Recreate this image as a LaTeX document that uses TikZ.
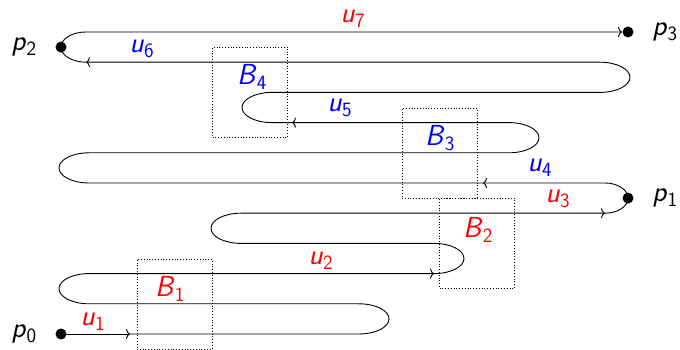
\documentclass[tikz,border=0pt]{standalone}
\usetikzlibrary{arrows.meta}
\newcommand{\sv}[2]{\textsf{\textit{#1}}\textsubscript{\textsf{#2}}}
\begin{document}
\begin{tikzpicture}[x=1pt,y=1pt,line width=0.9pt,
  every node/.style={font=\fontsize{29}{34}\selectfont},
  tip/.style={-{To[length=4pt,width=10pt]}},
  dot/.style={circle,fill=black,inner sep=0pt,minimum size=11pt},
  blk/.style={draw,dotted,line width=0.8pt,minimum width=75pt,minimum height=90pt,inner sep=0pt},
  rl/.style={x radius=30,y radius=15.1},
  lbl/.style={inner sep=0pt}]
\useasboundingbox (0,0) rectangle (680,350);
% end points
\node[dot] (p0) at (61,16) {};
\node[dot] (p1) at (628,151.9) {};
\node[dot] (p2) at (61,302.9) {};
\node[dot] (p3) at (628,318) {};
\node[lbl] (tp0) at (24,16) {\sv{p}{0}};
\node[lbl] (tp1) at (665,152) {\sv{p}{1}};
\node[lbl] (tp2) at (24,303) {\sv{p}{2}};
\node[lbl] (tp3) at (665,318) {\sv{p}{3}};
% boxes
\node[blk] (B1) at (174.5,46) {};
\node[blk] (B2) at (477,106.5) {};
\node[blk] (B3) at (439.5,197) {};
\node[blk] (B4) at (250,258) {};
\node[lbl,red] (tB1) at (170,61) {\textsf{\textit{B}}\textsubscript{\textsf{1}}};
\node[lbl,red] (tB2) at (478,120) {\textsf{\textit{B}}\textsubscript{\textsf{2}}};
\node[lbl,blue] (tB3) at (440,212) {\textsf{\textit{B}}\textsubscript{\textsf{3}}};
\node[lbl,blue] (tB4) at (252,273) {\textsf{\textit{B}}\textsubscript{\textsf{4}}};
% arrow points
\coordinate (a1) at (130,16);
\coordinate (a2) at (434,76.4);
\coordinate (a3) at (605,136.8);
\coordinate (a4) at (483,167);
\coordinate (a5) at (292,227.4);
\coordinate (a6) at (86,287.8);
% the path
\draw[tip] (p0.center) -- (a1);
\draw[tip] (a1) -- (359,16) arc[start angle=-90,end angle=90,rl]
  -- (89,46.2) arc[start angle=270,end angle=90,rl] -- (a2);
\draw[tip] (a2) arc[start angle=-90,end angle=90,rl]
  -- (241,106.6) arc[start angle=270,end angle=90,rl] -- (a3);
\draw (a3) arc[start angle=-90,end angle=0,x radius=23,y radius=15.1];
\draw[tip] (p1.center) arc[start angle=0,end angle=90,x radius=23,y radius=15.1] -- (a4);
\draw[tip] (a4) -- (89,167) arc[start angle=270,end angle=90,rl]
  -- (509,197.2) arc[start angle=-90,end angle=90,rl] -- (a5);
\draw[tip] (a5) -- (272,227.4) arc[start angle=270,end angle=90,rl]
  -- (600,257.6) arc[start angle=-90,end angle=90,rl] -- (a6);
\draw (a6) arc[start angle=270,end angle=180,x radius=25,y radius=15.1];
\draw[tip] (p2.center) arc[start angle=180,end angle=90,x radius=25,y radius=15.1] -- (p3);
% labels
\node[lbl,red] (u1) at (93,28) {\sv{u}{1}};
\node[lbl,red] (u2) at (321,89) {\sv{u}{2}};
\node[lbl,red] (u3) at (558,151) {\sv{u}{3}};
\node[lbl,blue] (u4) at (540,182) {\sv{u}{4}};
\node[lbl,blue] (u5) at (340,242) {\sv{u}{5}};
\node[lbl,blue] (u6) at (142,301) {\sv{u}{6}};
\node[lbl,red] (u7) at (353,331) {\sv{u}{7}};
\end{tikzpicture}
\end{document}
